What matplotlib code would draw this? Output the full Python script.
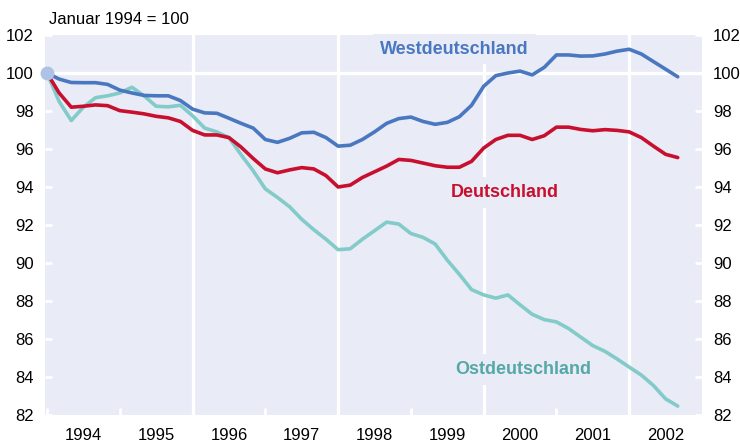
import matplotlib
matplotlib.use("Agg")
import matplotlib.pyplot as plt
import numpy as np

# months since January 1994
months = list(range(0, 105, 2))

west = [100.0, 99.68, 99.5, 99.49, 99.49, 99.4, 99.1, 98.95, 98.82, 98.8,
        98.8, 98.55, 98.1, 97.9, 97.88, 97.62, 97.35, 97.1, 96.5, 96.35,
        96.56, 96.85, 96.88, 96.6, 96.15, 96.2, 96.5, 96.9, 97.35, 97.6,
        97.68, 97.45, 97.3, 97.4, 97.7, 98.3, 99.3, 99.86, 100.0, 100.1,
        99.9, 100.3, 100.95, 100.95, 100.89, 100.9, 101.0, 101.15, 101.25, 101.0,
        100.6, 100.2, 99.8]

deutschland = [100.0, 98.95, 98.2, 98.25, 98.32, 98.28, 98.02, 97.94, 97.85, 97.72,
               97.64, 97.45, 96.98, 96.74, 96.74, 96.6, 96.1, 95.5, 94.95, 94.75,
               94.9, 95.02, 94.95, 94.6, 94.0, 94.1, 94.5, 94.8, 95.1, 95.45,
               95.4, 95.26, 95.12, 95.04, 95.04, 95.35, 96.05, 96.5, 96.72, 96.72,
               96.5, 96.7, 97.15, 97.15, 97.03, 96.96, 97.02, 96.98, 96.9, 96.6,
               96.15, 95.72, 95.55]

ost = [100.0, 98.5, 97.5, 98.2, 98.7, 98.8, 98.95, 99.25, 98.8, 98.25,
       98.22, 98.3, 97.75, 97.1, 96.9, 96.6, 95.7, 94.85, 93.9, 93.45,
       92.96, 92.3, 91.75, 91.25, 90.7, 90.75, 91.25, 91.7, 92.15, 92.05,
       91.55, 91.35, 91.0, 90.15, 89.4, 88.6, 88.32, 88.15, 88.32, 87.8,
       87.3, 87.02, 86.9, 86.55, 86.1, 85.65, 85.35, 84.95, 84.52, 84.1,
       83.55, 82.85, 82.47]

years = [1994, 1995, 1996, 1997, 1998, 1999, 2000, 2001, 2002]
yticks = [82, 84, 86, 88, 90, 92, 94, 96, 98, 100, 102]

BG = "#e9ebf6"
C_WEST = "#4a78c0"
C_DE = "#c8102e"
C_OST = "#82cbc9"
C_OST_TXT = "#55a8a5"

plt.rcParams['font.family'] = ['Liberation Sans', 'DejaVu Sans']

fig = plt.figure(figsize=(7.4, 4.45), dpi=100)
ax = fig.add_axes([45/740, 1-415/445, (702-45)/740, (415-35)/445])
ax.set_facecolor(BG)
for s in ax.spines.values():
    s.set_visible(False)

ax.set_xlim(-0.33, 108.0)
ax.set_ylim(82, 102)

# gridlines
ax.axhline(100, color="white", lw=2.4, zorder=1)
for yr in [1996, 1998, 2000, 2002]:
    ax.axvline((yr - 1994) * 12, color="white", lw=2.4, zorder=1)

lw = 2.6
ax.plot(months, ost, color=C_OST, lw=lw, zorder=3, solid_capstyle='round')
ax.plot(months, deutschland, color=C_DE, lw=lw, zorder=4, solid_capstyle='round')
ax.plot(months, west, color=C_WEST, lw=lw, zorder=5, solid_capstyle='round')
ax.plot([months[0]], [west[0]], 'o', color="#adc3e6", ms=9, zorder=6, clip_on=False)

# y ticks on both sides
ax.set_yticks(yticks)
ax.tick_params(axis='y', which='major', direction='in', length=5, width=2,
               color='white', labelsize=12, pad=8, left=True, right=True,
               labelleft=True, labelright=True)

# x ticks: marks at year starts, labels mid-year
ax.set_xticks([(y - 1994) * 12 for y in years])
ax.set_xticklabels([])
ax.set_xticks([(y - 1994) * 12 + 6 for y in years], minor=True)
ax.set_xticklabels([str(y) for y in years], minor=True)
ax.tick_params(axis='x', which='major', direction='in', length=5, width=2, color='white')
ax.tick_params(axis='x', which='minor', length=0, labelsize=12, pad=9)

fig.text(49/740, 1-20/445, "Januar 1994 = 100", fontsize=12, ha='left', va='center')

bbox = dict(facecolor=BG, edgecolor='none', pad=5)
ax.text(67.2, 101.26, "Westdeutschland", color=C_WEST, fontsize=13, fontweight='bold',
        ha='center', va='center', bbox=bbox, zorder=2)
ax.text(75.5, 93.71, "Deutschland", color=C_DE, fontsize=13, fontweight='bold',
        ha='center', va='center', bbox=bbox, zorder=2)
ax.text(78.5, 84.39, "Ostdeutschland", color=C_OST_TXT, fontsize=13, fontweight='bold',
        ha='center', va='center', bbox=bbox, zorder=2)

fig.savefig("out.png", dpi=100, facecolor="white")
